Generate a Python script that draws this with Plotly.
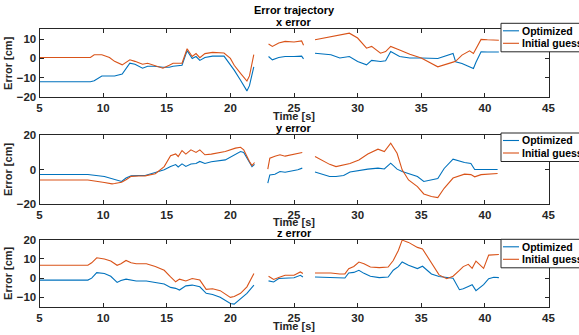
import plotly.graph_objects as go
from plotly.subplots import make_subplots

# ---- x error ----
t_x = [5, 9, 9.3, 9.9, 10.5, 10.9, 11.5, 12.1, 12.5, 13.1, 13.5, 14, 14.7, 15.2, 15.5, 16.2,
       16.6, 17.0, 17.3, 17.6, 18.0, 18.6, 19.5, 20.0, 20.3, 20.8, 21.2, 21.3, 21.5, 21.84,
       None,
       23.0, 23.3, 23.8, 24.3, 25.0, 25.6, 25.75,
       None,
       26.65, 27.9, 28.6, 29.35, 30.0, 30.7, 31.1, 31.8, 32.2, 32.6, 33.3, 34.1, 35.0, 35.75,
       36.3, 37.5, 37.7, 38.2, 38.8, 39.1, 39.3, 39.7, 40.2, 41.1]
x_opt = [-12, -12, -11.5, -9, -9, -9, -8, -2.4, -3, -5, -4, -4, -4.5, -4.5, -4, -3.5,
         4, 0, 1, -1, 0.5, 1.2, 1.2, -3, -6, -11.2, -16, -16.7, -14, -4.3,
         None,
         1, -0.7, 0.5, 1, 1, 1.2, -0.2,
         None,
         2.7, 1.9, 0.2, 1, -1.6, -3.3, -1, -1.6, -1.2, 3.6, 1, 0.2, 0.2, 0,
         0, 2.6, -1.7, -2.6, -4.5, -5.2, -2, 3.4, 3.3, 3.3]
x_init = [0.5, 0.5, 1.9, 1.9, 0.5, -1.5, -3.3, -0.7, -1.5, -3, -2.5, -3.5, -5, -3.5, -2.5, -2.5,
          5, 1, 2.5, 0.4, 2.5, 3.1, 2.8, 0, -3.5, -7.7, -11.2, -11.6, -9, 2,
          None,
          7.4, 6.2, 7.9, 8.8, 8.5, 9, 6.8,
          None,
          9.6, 11.3, 12, 13, 10.5, 5.3, 6.2, 2.7, 3.5, 6.2, 4.4, 2.2, 0.2, -2.4,
          -4.3, -1.9, -1.5, 1.7, 3.9, 2.6, 5, 9.8, 9.6, 9.4]

# ---- y error ----
t_y = [5, 8.8, 10.1, 10.7, 10.9, 11.2, 11.45, 11.8, 12.2, 12.8, 13.3, 14.1, 14.8, 15.3, 15.7,
       15.9, 16.2, 16.5, 16.9, 17.3, 17.6, 18.0, 18.5, 19.6, 20.4, 20.8, 21.05, 21.5, 21.7, 21.9,
       None,
       22.94, 23.1, 23.5, 23.9, 24.3, 24.9, 25.3, 25.65,
       None,
       26.65, 27.8, 28.3, 28.9, 29.4, 30.1, 30.8, 31.6, 32.1, 32.6, 33.1, 33.5, 34.0, 34.7,
       35.2, 35.8, 36.3, 36.8, 37.5, 38.4, 38.9, 39.2, 39.7, 41.0]
y_opt = [-2.9, -2.9, -4.1, -5.2, -5.7, -6.5, -7, -5, -3.7, -3.5, -3.5, -1.8, -0.2, 1.7, 2.9,
         1.5, 3.3, 1.8, 3.2, 3.5, 4.7, 3.5, 4.5, 5.6, 9.1, 10.5, 10, 3.7, 1.7, 3,
         None,
         -8, -3.2, -2.8, -1.2, -1.6, -0.9, -0.2, 0.8,
         None,
         -1.5, -4.1, -4.1, -3.5, -1.5, -0.5, 0.2, 0.8, 0.3, 3.7, 0.2, -1.2, -2.3, -4.1,
         -7, -6.1, -5.3, 0.6, 6, 4.1, 3.5, 0, 0, 0]
y_init = [-6.1, -6.1, -7.6, -8.4, -8.2, -8, -7.5, -6, -4, -3.8, -3.7, -2.5, 1.7, 8, 9.1,
          7.6, 11.1, 9, 11.5, 10, 11.5, 8.6, 9, 10.5, 12.5, 13, 11.5, 4.7, 2.3, 4.1,
          None,
          0.2, 6.6, 7.8, 8.6, 7.8, 8.6, 9.1, 9.9,
          None,
          7.6, 3, 1.7, 2.7, 3.5, 5.6, 9.1, 11.9, 10.5, 15.4, 9.5, -0.2, -6.1, -10,
          -14.3, -15.8, -16.4, -11, -5, -2.7, -3, -4.3, -3, -2.3]

# ---- z error ----
t_z = [5, 8.8, 9.1, 9.5, 10.1, 10.6, 11.1, 11.4, 11.8, 12.2, 12.6, 13.4, 14.1, 14.8, 15.3,
       15.7, 16.0, 16.5, 17.0, 17.6, 18.1, 18.6, 19.2, 20.0, 20.3, 20.8, 21.3, 21.85,
       None,
       23.0, 23.4, 23.8, 24.3, 25.0, 25.5, 25.7,
       None,
       26.65, 27.9, 28.6, 29.0, 29.3, 29.7, 30.1, 30.5, 31.0, 31.7, 32.4, 32.8, 33.2, 33.5,
       34.0, 34.7, 35.1, 35.8, 36.4, 37.0, 37.5, 38.0, 38.3, 38.7, 39.0, 39.3, 39.9, 40.3,
       40.7, 41.1]
z_opt = [-1, -1, 0, 2.9, 2.4, 1, -2.2, -1.2, -0.5, -1.2, -1.5, -1.5, -2.4, -3, -4.8,
         -5.3, -6.2, -4, -3.6, -4.5, -7.9, -8.5, -9.9, -13.2, -13.5, -10.5, -7.9, -3.6,
         None,
         -1.4, -2, -0.2, 0, 0.2, 1.5, 0.6,
         None,
         0.6, 0.3, 0.1, 0.1, 2.7, 3, 4.1, 2.5, 1, 0.3, 0.6, 4.1, 6, 8.4,
         6.7, 5, 6.2, 2.2, 0.9, 0.3, 0, -6, -5.5, -4.3, -3.4, -6.5, -3.4, -0.3,
         0.5, 0.3]
z_init = [6.7, 6.7, 8, 10.6, 10, 8.9, 6.7, 7.5, 9.2, 8, 7.5, 7.5, 6.1, 4.1, 0.7,
          -1.9, -0.5, -1.5, -0.2, -1, -5.8, -5.5, -6.5, -10, -9.5, -7.9, -4.5, 2.4,
          None,
          1, -0.7, 0.3, 1.5, 1.5, 3.2, 2.4,
          None,
          2.7, 2.7, 2.2, 2.2, 4.9, 6.1, 8.4, 7.5, 5.8, 5.5, 5.8, 9.2, 14.4, 19.8,
          18.6, 16, 15.2, 8, 1.7, -0.3, 1, 4, 6, 7.2, 5.1, 8.9, 5.1, 12,
          12.3, 12.3]

x_ticks = [5, 10, 15, 20, 25, 30, 35, 40, 45]
panels = [
    ("x error", t_x, x_opt, x_init, [-20, 15], [-20, -10, 0, 10]),
    ("y error", t_y, y_opt, y_init, [-20, 20], [-20, 0, 20]),
    ("z error", t_z, z_opt, z_init, [-15, 20], [-10, 0, 10, 20]),
]
series_names = ["Optimized", "Initial guess"]
series_colors = ["#0072BD", "#D95319"]

W, H = 579, 335
FONT = "Liberation Sans, Arial, sans-serif"
INK = "#262626"

# pixel boxes of the three axes (top, bottom)
x_left, x_right = 39.5, 548.5
y_boxes = [(29.3, 97.3), (135.3, 203.7), (239.7, 307.0)]
# legend boxes: top edge, left edge, height
legend_tops = [23.3, 133.0, 239.3]
legend_left = 501.0
legend_h = 28.5


def px(x):
    return x / W


def py(y):
    return 1 - y / H


fig = make_subplots(rows=3, cols=1)

for i, (title, t, opt, init, yr, yt) in enumerate(panels):
    r = i + 1
    for name, vals, col in zip(series_names, [opt, init], series_colors):
        fig.add_trace(go.Scatter(x=t, y=vals, mode="lines", name=name,
                                 line=dict(color=col, width=1.1),
                                 connectgaps=False, showlegend=False), row=r, col=1)
    top, bot = y_boxes[i]
    axis_common = dict(showline=True, mirror="ticks", linecolor=INK, linewidth=1,
                       ticks="inside", ticklen=4, tickcolor=INK, showgrid=False,
                       zeroline=False,
                       tickfont=dict(family=FONT, size=11.5, color=INK, weight="bold"))
    fig.update_xaxes(range=[5, 45], tickvals=x_ticks,
                     domain=[px(x_left), px(x_right)],
                     row=r, col=1, **axis_common)
    fig.update_yaxes(range=yr, tickvals=yt,
                     domain=[py(bot), py(top)],
                     title=dict(text="Error [cm]", standoff=1,
                                font=dict(family=FONT, size=11, color=INK, weight="bold")),
                     row=r, col=1, **axis_common)
    # x-axis label placed just under the tick labels
    fig.add_annotation(text="<b>Time [s]</b>", xref="paper", yref="paper",
                       x=px((x_left + x_right) / 2), y=py(bot + 18.5),
                       xanchor="center", yanchor="middle", showarrow=False,
                       font=dict(family=FONT, size=11, color=INK))
    fig.add_annotation(text=f"<b>{title}</b>", xref="paper", yref="paper",
                       x=px((x_left + x_right) / 2), y=py(top - 7),
                       xanchor="center", yanchor="middle", showarrow=False,
                       font=dict(family=FONT, size=11, color="black"))

    # legend box with line samples and labels
    lt = legend_tops[i]
    fig.add_shape(type="rect", xref="paper", yref="paper",
                  x0=px(legend_left), x1=px(W + 20), y0=py(lt + legend_h), y1=py(lt),
                  line=dict(color=INK, width=1), fillcolor="white", layer="above")
    for k, (name, col) in enumerate(zip(series_names, series_colors)):
        yc = lt + 7.5 + k * 12.5
        fig.add_shape(type="line", xref="paper", yref="paper",
                      x0=px(legend_left + 2), x1=px(legend_left + 18),
                      y0=py(yc), y1=py(yc), line=dict(color=col, width=1.1),
                      layer="above")
        fig.add_annotation(text=f"<b>{name}</b>", xref="paper", yref="paper",
                           x=px(legend_left + 19), y=py(yc), xanchor="left",
                           yanchor="middle", showarrow=False,
                           font=dict(family=FONT, size=10.5, color="black"))

fig.add_annotation(text="<b>Error trajectory</b>", xref="paper", yref="paper",
                   x=px((x_left + x_right) / 2), y=py(10),
                   xanchor="center", yanchor="middle", showarrow=False,
                   font=dict(family=FONT, size=11, color="black"))

fig.update_layout(width=W, height=H,
                  margin=dict(l=0, r=0, t=0, b=0, autoexpand=False),
                  paper_bgcolor="white", plot_bgcolor="white")

fig.write_html("out.html")
